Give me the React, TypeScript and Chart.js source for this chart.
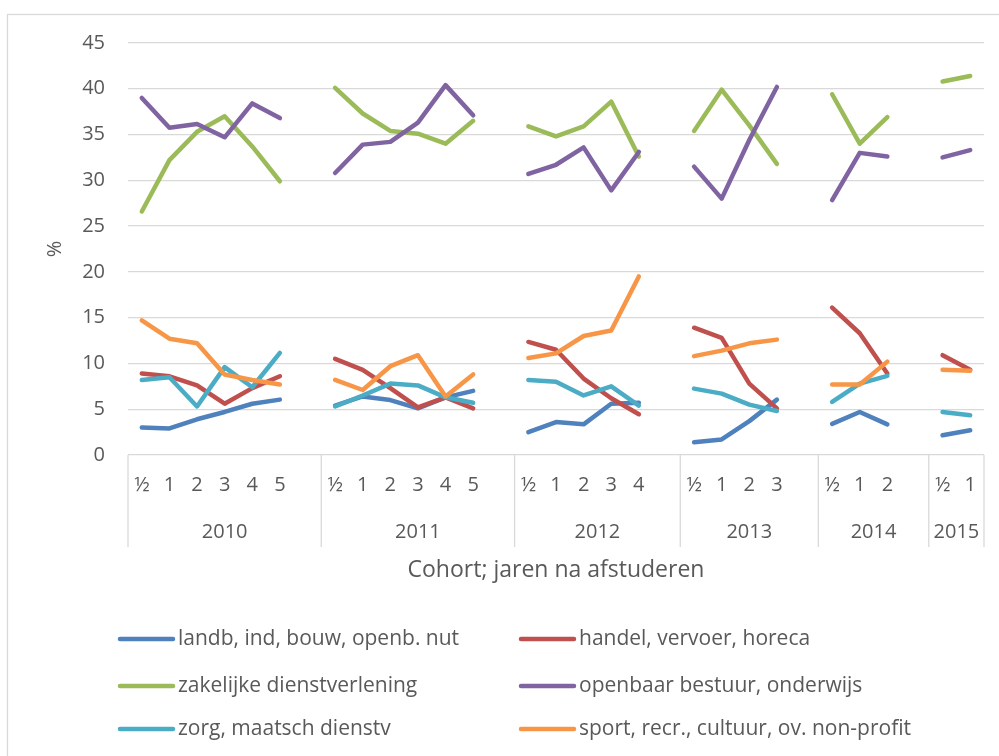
import React, { useEffect, useRef } from 'react';
import { Chart, registerables } from 'chart.js';

Chart.register(...registerables);

// ---- data ----
const cohorts = ['2010', '2011', '2012', '2013', '2014', '2015'];
const yearsAfter = [
  ['½', '1', '2', '3', '4', '5'],
  ['½', '1', '2', '3', '4', '5'],
  ['½', '1', '2', '3', '4'],
  ['½', '1', '2', '3'],
  ['½', '1', '2'],
  ['½', '1'],
];

const landb = [
  [3.0, 2.9, 3.9, 4.7, 5.6, 6.05],
  [5.4, 6.4, 6.0, 5.1, 6.3, 7.0],
  [2.5, 3.6, 3.35, 5.6, 5.7],
  [1.4, 1.7, 3.7, 6.05],
  [3.4, 4.7, 3.35],
  [2.15, 2.7],
];
const handel = [
  [8.9, 8.6, 7.6, 5.6, 7.3, 8.6],
  [10.5, 9.3, 7.3, 5.2, 6.3, 5.1],
  [12.35, 11.5, 8.35, 6.2, 4.45],
  [13.9, 12.8, 7.8, 5.1],
  [16.1, 13.3, 8.9],
  [10.9, 9.3],
];
const zakelijk = [
  [26.6, 32.2, 35.3, 37.0, 33.7, 29.9],
  [40.1, 37.3, 35.4, 35.1, 34.0, 36.5],
  [35.9, 34.8, 35.9, 38.6, 32.6],
  [35.4, 39.9, 36.0, 31.8],
  [39.4, 34.0, 36.9],
  [40.8, 41.4],
];
const openbaar = [
  [39.0, 35.75, 36.15, 34.7, 38.4, 36.8],
  [30.8, 33.9, 34.2, 36.3, 40.4, 37.1],
  [30.7, 31.7, 33.6, 28.9, 33.1],
  [31.5, 28.0, 34.4, 40.2],
  [27.85, 33.0, 32.6],
  [32.5, 33.3],
];
const zorg = [
  [8.2, 8.5, 5.3, 9.6, 7.4, 11.15],
  [5.3, 6.5, 7.8, 7.6, 6.3, 5.7],
  [8.2, 8.0, 6.5, 7.5, 5.4],
  [7.25, 6.7, 5.5, 4.8],
  [5.8, 7.8, 8.65],
  [4.7, 4.35],
];
const sport = [
  [14.7, 12.7, 12.2, 8.8, 8.2, 7.7],
  [8.2, 7.1, 9.7, 10.9, 6.4, 8.8],
  [10.6, 11.1, 13.0, 13.6, 19.5],
  [10.8, 11.4, 12.2, 12.6],
  [7.7, 7.7, 10.2],
  [9.3, 9.2],
];

const seriesNames = [
  'landb, ind, bouw, openb. nut',
  'handel, vervoer, horeca',
  'zakelijke dienstverlening',
  'openbaar bestuur, onderwijs',
  'zorg, maatsch dienstv',
  'sport, recr., cultuur, ov. non-profit',
];
const seriesData = [landb, handel, zakelijk, openbaar, zorg, sport];
const seriesColors = ['#4F81BD', '#C0504D', '#9BBB59', '#8064A2', '#4BACC6', '#F79646'];

const yTitle = '%';
const xTitle = 'Cohort; jaren na afstuderen';

// ---- helpers ----
function flattenGroups<T>(groups: T[][], filler: T): T[] {
  const out: T[] = [];
  groups.forEach((g, i) => {
    out.push(...g);
    if (i < groups.length - 1) out.push(filler);
  });
  return out;
}

const categories = flattenGroups<string>(yearsAfter, '');

const TEXT = '#595959';
const GRID = '#D9D9D9';
const FONT = "'Open Sans', sans-serif";

const decorPlugin = {
  id: 'decor',
  beforeDraw(chart: any) {
    const ctx = chart.ctx;
    ctx.save();
    ctx.fillStyle = '#ffffff';
    ctx.fillRect(0, 0, chart.width, chart.height);
    ctx.strokeStyle = GRID;
    ctx.lineWidth = 1.3;
    ctx.strokeRect(7.5, 14.5, chart.width + 10, chart.height + 10);
    ctx.restore();
  },
  afterDraw(chart: any) {
    const ctx = chart.ctx;
    const xs = chart.scales.x;
    const area = chart.chartArea;
    const step = xs.getPixelForValue(1) - xs.getPixelForValue(0);
    ctx.save();
    // group separators + cohort labels
    ctx.strokeStyle = GRID;
    ctx.lineWidth = 1.3;
    ctx.fillStyle = TEXT;
    ctx.font = `20px ${FONT}`;
    ctx.textAlign = 'center';
    ctx.textBaseline = 'middle';
    let idx = 0;
    const bottomY = 547;
    const drawSep = (x: number) => {
      ctx.beginPath();
      ctx.moveTo(x, area.bottom);
      ctx.lineTo(x, bottomY);
      ctx.stroke();
    };
    drawSep(area.left);
    cohorts.forEach((c, i) => {
      const span = yearsAfter[i].length + (i < cohorts.length - 1 ? 1 : 0);
      const x0 = xs.getPixelForValue(idx) - step / 2;
      const x1 = i === cohorts.length - 1 ? area.right : xs.getPixelForValue(idx + span - 1) + step / 2;
      drawSep(x1);
      ctx.fillText(c, (x0 + x1) / 2, 532);
      idx += span;
    });
    // legend
    const colX = [118, 519];
    const rowY = [639, 686, 729];
    ctx.textAlign = 'left';
    ctx.font = `21px ${FONT}`;
    seriesNames.forEach((name, i) => {
      const x = colX[i % 2];
      const y = rowY[Math.floor(i / 2)];
      ctx.strokeStyle = seriesColors[i];
      ctx.lineWidth = 4.5;
      ctx.lineCap = 'round';
      ctx.beginPath();
      ctx.moveTo(x + 2, y);
      ctx.lineTo(x + 55, y);
      ctx.stroke();
      ctx.fillStyle = TEXT;
      ctx.fillText(name, x + 60, y);
    });
    ctx.restore();
  },
};

export default function App() {
  const ref = useRef<HTMLCanvasElement | null>(null);
  useEffect(() => {
    if (!ref.current) return;
    const chart = new Chart(ref.current, {
      type: 'line',
      data: {
        labels: categories,
        datasets: seriesData.map((d, i) => ({
          label: seriesNames[i],
          data: flattenGroups<number | null>(d, null),
          borderColor: seriesColors[i],
          backgroundColor: seriesColors[i],
          borderWidth: 4.5,
          borderCapStyle: 'round',
          borderJoinStyle: 'round',
          pointRadius: 0,
          pointHoverRadius: 0,
          spanGaps: false,
          tension: 0,
          order: seriesData.length - i,
        })),
      },
      options: {
        responsive: false,
        animation: false,
        devicePixelRatio: 1,
        layout: { padding: { left: 0, right: 15, top: 43, bottom: 0 } },
        plugins: {
          legend: { display: false },
          tooltip: { enabled: false },
        },
        scales: {
          x: {
            type: 'category',
            offset: true,
            grid: { display: false, drawTicks: false, tickLength: 0, offset: true },
            border: { display: false },
            ticks: {
              autoSkip: false,
              maxRotation: 0,
              minRotation: 0,
              padding: 18,
              color: TEXT,
              font: { family: FONT, size: 20 },
            },
            title: {
              display: true,
              text: xTitle,
              color: TEXT,
              font: { family: FONT, size: 23 },
              padding: { top: 0, bottom: 172 },
            },
            afterFit: (s: any) => {
              s.height = 301;
            },
          },
          y: {
            min: 0,
            max: 45,
            grid: { color: GRID, lineWidth: 1.3, drawTicks: false, tickLength: 0 },
            border: { display: false },
            ticks: {
              stepSize: 5,
              padding: 23,
              color: TEXT,
              font: { family: FONT, size: 20 },
            },
            title: {
              display: true,
              text: yTitle,
              color: TEXT,
              font: { family: FONT, size: 20 },
              padding: { top: 43, bottom: 0 },
            },
            afterFit: (s: any) => {
              s.width = 128;
            },
          },
        },
      },
      plugins: [decorPlugin],
    });
    return () => chart.destroy();
  }, []);
  return (
    <div style={{ position: 'absolute', left: 0, top: 0, width: 999, height: 756, overflow: 'hidden', background: '#fff' }}>
      <canvas ref={ref} width={999} height={756} style={{ display: 'block' }} />
    </div>
  );
}
